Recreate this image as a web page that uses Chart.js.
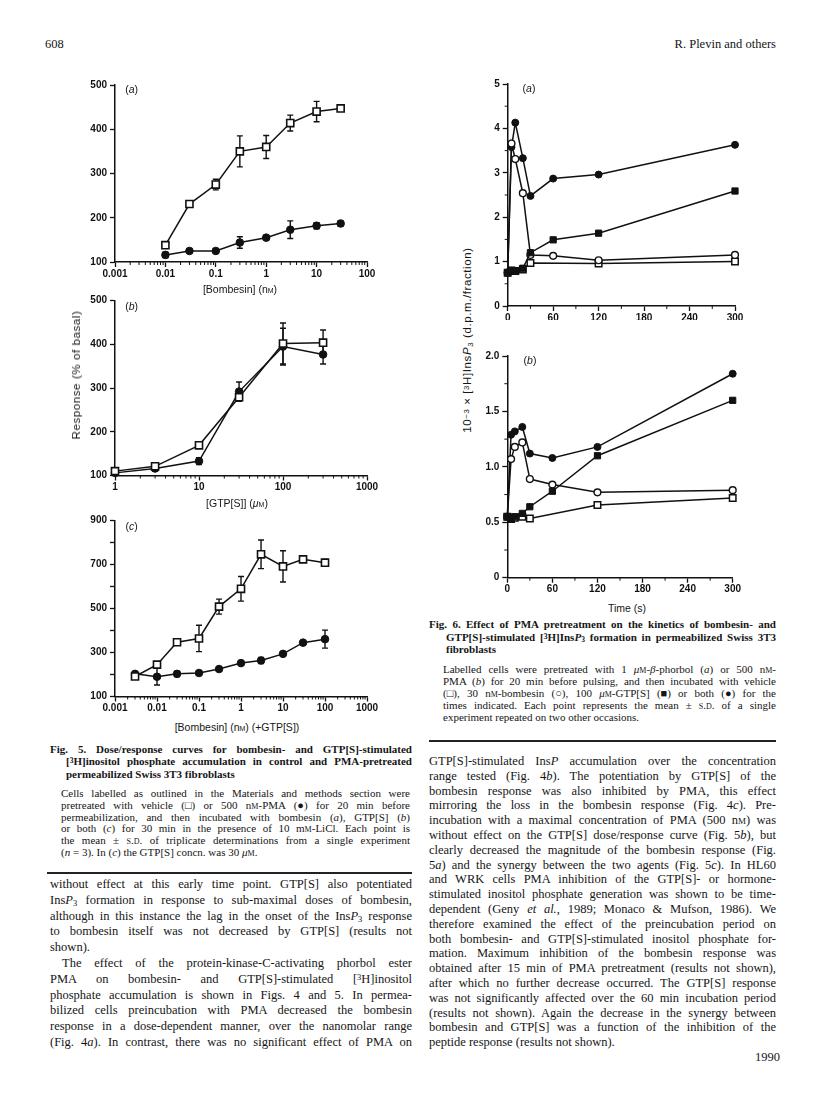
<!DOCTYPE html>
<html>
<head>
<meta charset="utf-8">
<script src="https://cdn.jsdelivr.net/npm/chart.js@4.4.0/dist/chart.umd.min.js"></script>
<style>
html, body { margin: 0; padding: 0; background: #fff; }
body { width: 816px; height: 1093px; position: relative; overflow: hidden;
       font-family: "Liberation Serif", "Times New Roman", serif; color: #151515; }
canvas { position: absolute; }
.ln { position: absolute; white-space: nowrap; }
.body { font-size: 12.5px; line-height: 14px; }
.cap { font-size: 11px; line-height: 12px; }
.capb { font-size: 11px; line-height: 12px; font-weight: bold; }
.sans { position: absolute; white-space: nowrap; font-family: "Liberation Sans", Arial, sans-serif;
        font-size: 10.5px; transform: translate(-50%, -50%); }
.rot { transform: translate(-50%, -50%) rotate(-90deg); font-size: 11.5px; letter-spacing: 0.6px; }
.sc { font-variant: small-caps; }
sup { font-size: 68%; line-height: 0; vertical-align: 0.32em; }
sub { font-size: 68%; line-height: 0; vertical-align: -0.2em; }
.rule { position: absolute; height: 1.5px; background: #222; }
</style>
</head>
<body>
<canvas id="fig5a"></canvas>
<canvas id="fig5b"></canvas>
<canvas id="fig5c"></canvas>
<canvas id="fig6a"></canvas>
<canvas id="fig6b"></canvas>

<script>
// ---- Fig. 5 (a): bombesin dose/response ----
const bombA = [0.01, 0.03, 0.1, 0.3, 1, 3, 10, 30];
const aVehicle = [138, 231, 275, 350, 360, 414, 440, 447];
const aVehicleErr = [0, 0, 12, 35, 26, 18, 23, 6];
const aPMA = [116, 125, 125, 144, 155, 173, 182, 187];
const aPMAErr = [6, 4, 4, 13, 5, 20, 7, 6];

// ---- Fig. 5 (b): GTP[S] dose/response ----
const gtpB = [1, 3, 10, 30, 100, 300];
const bVehicle = [110, 121, 169, 279, 402, 404];
const bVehicleErr = [3, 8, 4, 8, 47, 29];
const bPMA = [106, 116, 133, 292, 395, 377];
const bPMAErr = [3, 6, 8, 22, 42, 22];

// ---- Fig. 5 (c): bombesin + GTP[S] ----
const bombC = [0.003, 0.01, 0.03, 0.1, 0.3, 1, 3, 10, 30, 100];
const cVehicle = [191, 245, 347, 364, 509, 590, 747, 692, 724, 709];
const cVehicleErr = [8, 10, 8, 60, 34, 56, 65, 71, 8, 15];
const cPMA = [203, 190, 203, 207, 225, 252, 264, 294, 345, 361];
const cPMAErr = [8, 38, 12, 8, 8, 6, 14, 8, 6, 41];

// ---- Fig. 6: time courses (s) ----
const time6 = [0, 5, 10, 20, 30, 60, 120, 300];
const time6Vehicle = [0, 5, 10, 20, 30, 120, 300];
const a6Both = [0.75, 3.58, 4.13, 3.33, 2.48, 2.87, 2.96, 3.63];
const a6Bombesin = [0.75, 3.66, 3.31, 2.54, 1.15, 1.13, 1.03, 1.15];
const a6GTP = [0.75, 0.8, 0.79, 0.85, 1.2, 1.49, 1.64, 2.59];
const a6Vehicle = [0.75, 0.8, 0.79, 0.82, 0.97, 0.96, 1.0];
const b6Both = [0.55, 1.29, 1.32, 1.36, 1.12, 1.08, 1.18, 1.84];
const b6Bombesin = [0.55, 1.07, 1.18, 1.22, 0.89, 0.84, 0.77, 0.79];
const b6GTP = [0.55, 0.53, 0.55, 0.58, 0.64, 0.78, 1.10, 1.60];
const b6Vehicle = [0.55, 0.53, 0.54, 0.55, 0.535, 0.656, 0.72];

// ---- tick values / labels ----
const ticks5aX = [0.001, 0.01, 0.1, 1, 10, 100];
const labels5aX = ['0.001', '0.01', '0.1', '1', '10', '100'];
const ticks5bX = [1, 10, 100, 1000];
const labels5bX = ['1', '10', '100', '1000'];
const ticks5cX = [0.001, 0.01, 0.1, 1, 10, 100, 1000];
const labels5cX = ['0.001', '0.01', '0.1', '1', '10', '100', '1000'];
const ticks5abY = [100, 200, 300, 400, 500];
const labels5abY = ['100', '200', '300', '400', '500'];
const ticks5cY = [100, 200, 300, 400, 500, 600, 700, 800, 900];
const labels5cY = ['100', '', '300', '', '500', '', '700', '', '900'];
const ticks6X = [0, 60, 120, 180, 240, 300];
const labels6X = ['0', '60', '120', '180', '240', '300'];
const ticks6aY = [0, 1, 2, 3, 4, 5];
const labels6aY = ['0', '1', '2', '3', '4', '5'];
const ticks6bY = [0, 0.5, 1, 1.5, 2];
const labels6bY = ['0', '0.5', '1.0', '1.5', '2.0'];

const INK = '#111';
const tickFont = { family: '"Liberation Sans", Arial, sans-serif', size: 10, weight: 'bold' };

// minor tick marks between the log decades
function logMinor(e0, e1) {
    const out = [];
    for (let e = e0; e < e1; e++) for (let k = 2; k <= 9; k++) out.push(k * Math.pow(10, e));
    return out;
}
function stepMinor(a, b, step) {
    const out = [];
    for (let v = a; v <= b + 1e-9; v += step) out.push(v);
    return out;
}

const errorBars = {
    id: 'errorBars',
    beforeDatasetsDraw(chart) {
        const ctx = chart.ctx;
        const y = chart.scales.y;
        ctx.save();
        ctx.strokeStyle = INK;
        ctx.lineWidth = 1.4;
        chart.data.datasets.forEach((ds, di) => {
            if (!ds.errors) return;
            chart.getDatasetMeta(di).data.forEach((pt, i) => {
                const e = ds.errors[i];
                if (!e) return;
                const v = ds.data[i].y;
                const top = y.getPixelForValue(v + e);
                const bot = y.getPixelForValue(v - e);
                ctx.beginPath();
                ctx.moveTo(pt.x, top); ctx.lineTo(pt.x, bot);
                ctx.moveTo(pt.x - 3, top); ctx.lineTo(pt.x + 3, top);
                ctx.moveTo(pt.x - 3, bot); ctx.lineTo(pt.x + 3, bot);
                ctx.stroke();
            });
        });
        ctx.restore();
    }
};

const minorTicks = {
    id: 'minorTicks',
    afterDraw(chart, args, opts) {
        const ctx = chart.ctx;
        const a = chart.chartArea;
        ctx.save();
        ctx.strokeStyle = INK;
        ctx.lineWidth = 1;
        (opts.x || []).forEach(v => {
            const px = chart.scales.x.getPixelForValue(v);
            ctx.beginPath(); ctx.moveTo(px, a.bottom); ctx.lineTo(px, a.bottom + 3); ctx.stroke();
        });
        (opts.y || []).forEach(v => {
            const py = chart.scales.y.getPixelForValue(v);
            ctx.beginPath(); ctx.moveTo(a.left, py); ctx.lineTo(a.left - 3, py); ctx.stroke();
        });
        ctx.restore();
    }
};

function axis(def, which, size) {
    return {
        type: def.type, min: def.min, max: def.max,
        position: which === 'x' ? 'bottom' : 'left',
        grid: { drawOnChartArea: false, drawTicks: true, tickLength: 5, tickWidth: 1.3, tickColor: INK },
        border: { display: true, color: INK, width: 1.5 },
        ticks: {
            autoSkip: false, maxRotation: 0, minRotation: 0,
            padding: which === 'x' ? 1 : 3,
            color: INK, font: tickFont,
            callback: (v, i) => def.labels[i]
        },
        afterBuildTicks: s => { s.ticks = def.ticks.map(v => ({ value: v })); },
        afterFit: s => { if (which === 'x') s.height = size; else s.width = size; }
    };
}

function series(xs, ys, errs, style) {
    return Object.assign({
        data: xs.map((x, i) => ({ x: x, y: ys[i] })),
        errors: errs,
        showLine: true, borderColor: INK, borderWidth: 1.5, tension: 0, clip: false
    }, style);
}

const openSquare = { pointStyle: 'rect', pointRadius: 5, pointBackgroundColor: '#fff', pointBorderColor: INK, pointBorderWidth: 1.6 };
const fillCircle = { pointStyle: 'circle', pointRadius: 3.8, pointBackgroundColor: INK, pointBorderColor: INK, pointBorderWidth: 1 };
const openSquare6 = { pointStyle: 'rect', pointRadius: 4.6, pointBackgroundColor: '#fff', pointBorderColor: INK, pointBorderWidth: 1.5 };
const fillSquare6 = { pointStyle: 'rect', pointRadius: 4.4, pointBackgroundColor: INK, pointBorderColor: INK, pointBorderWidth: 1 };
const openCircle6 = { pointStyle: 'circle', pointRadius: 3.4, pointBackgroundColor: '#fff', pointBorderColor: INK, pointBorderWidth: 1.4 };
const fillCircle6 = { pointStyle: 'circle', pointRadius: 3.5, pointBackgroundColor: INK, pointBorderColor: INK, pointBorderWidth: 1 };

// box = canvas rectangle, area = where the plot frame must land on the page
function makeChart(id, box, area, xDef, yDef, datasets, minor) {
    const cv = document.getElementById(id);
    cv.width = box.w; cv.height = box.h;
    cv.style.left = box.x + 'px'; cv.style.top = box.y + 'px';
    cv.style.width = box.w + 'px'; cv.style.height = box.h + 'px';
    return new Chart(cv, {
        type: 'scatter',
        data: { datasets: datasets },
        options: {
            responsive: false, animation: false, devicePixelRatio: 1, events: [],
            layout: { padding: { left: 0, top: area.y0 - box.y, right: box.x + box.w - area.x1, bottom: 0 } },
            plugins: { legend: { display: false }, tooltip: { enabled: false }, minorTicks: minor },
            scales: {
                x: axis(xDef, 'x', box.y + box.h - area.y1),
                y: axis(yDef, 'y', area.x0 - box.x)
            }
        },
        plugins: [errorBars, minorTicks]
    });
}

makeChart('fig5a', { x: 40, y: 70, w: 345, h: 215 }, { x0: 115, y0: 85, x1: 367, y1: 262 },
    { type: 'logarithmic', min: 0.001, max: 100, ticks: ticks5aX, labels: labels5aX },
    { type: 'linear', min: 100, max: 500, ticks: ticks5abY, labels: labels5abY },
    [series(bombA, aVehicle, aVehicleErr, openSquare), series(bombA, aPMA, aPMAErr, fillCircle)],
    { x: logMinor(-3, 2) });

makeChart('fig5b', { x: 40, y: 286, w: 345, h: 212 }, { x0: 115, y0: 300.7, x1: 367, y1: 475.5 },
    { type: 'logarithmic', min: 1, max: 1000, ticks: ticks5bX, labels: labels5bX },
    { type: 'linear', min: 100, max: 500, ticks: ticks5abY, labels: labels5abY },
    [series(gtpB, bVehicle, bVehicleErr, openSquare), series(gtpB, bPMA, bPMAErr, fillCircle)],
    { x: logMinor(0, 3) });

makeChart('fig5c', { x: 40, y: 506, w: 345, h: 213 }, { x0: 115, y0: 520.7, x1: 367, y1: 696.5 },
    { type: 'logarithmic', min: 0.001, max: 1000, ticks: ticks5cX, labels: labels5cX },
    { type: 'linear', min: 100, max: 900, ticks: ticks5cY, labels: labels5cY },
    [series(bombC, cVehicle, cVehicleErr, openSquare), series(bombC, cPMA, cPMAErr, fillCircle)],
    { x: logMinor(-3, 3) });

makeChart('fig6a', { x: 480, y: 70, w: 275, h: 250 }, { x0: 507.7, y0: 84, x1: 735, y1: 306 },
    { type: 'linear', min: 0, max: 300, ticks: ticks6X, labels: labels6X },
    { type: 'linear', min: 0, max: 5, ticks: ticks6aY, labels: labels6aY },
    [series(time6, a6GTP, null, fillSquare6), series(time6, a6Bombesin, null, openCircle6),
     series(time6, a6Both, null, fillCircle6), series(time6Vehicle, a6Vehicle, null, openSquare6)],
    { x: stepMinor(30, 270, 60), y: stepMinor(0.5, 4.5, 1) });

makeChart('fig6b', { x: 480, y: 342, w: 275, h: 250 }, { x0: 507.3, y0: 356, x1: 732.7, y1: 577.7 },
    { type: 'linear', min: 0, max: 300, ticks: ticks6X, labels: labels6X },
    { type: 'linear', min: 0, max: 2, ticks: ticks6bY, labels: labels6bY },
    [series(time6, b6GTP, null, fillSquare6), series(time6, b6Bombesin, null, openCircle6),
     series(time6, b6Both, null, fillCircle6), series(time6Vehicle, b6Vehicle, null, openSquare6)],
    { x: stepMinor(30, 270, 60), y: stepMinor(0.25, 1.75, 0.5) });

// ---- page text ----
const nM = 'n<span class="sc">m</span>';
const uM = '<i>μ</i><span class="sc">m</span>';
const mM = 'm<span class="sc">m</span>';
const SD = '<span class="sc">s.d.</span>';
const InsP3 = 'Ins<i>P</i><sub>3</sub>';

const fig5Bold = [
    'Fig. 5. Dose/response curves for bombesin- and GTP[S]-stimulated',
    '[<sup>3</sup>H]inositol phosphate accumulation in control and PMA-pretreated',
    'permeabilized Swiss 3T3 fibroblasts'
];
const fig5Small = [
    'Cells labelled as outlined in the Materials and methods section were',
    'pretreated with vehicle (□) or 500 ' + nM + '-PMA (●) for 20 min before',
    'permeabilization, and then incubated with bombesin (<i>a</i>), GTP[S] (<i>b</i>)',
    'or both (<i>c</i>) for 30 min in the presence of 10 ' + mM + '-LiCl. Each point is',
    'the mean ± ' + SD + ' of triplicate determinations from a single experiment',
    '(<i>n</i> = 3). In (<i>c</i>) the GTP[S] concn. was 30 ' + uM + '.'
];
const fig6Bold = [
    'Fig. 6. Effect of PMA pretreatment on the kinetics of bombesin- and',
    'GTP[S]-stimulated [<sup>3</sup>H]' + InsP3 + ' formation in permeabilized Swiss 3T3',
    'fibroblasts'
];
const fig6Small = [
    'Labelled cells were pretreated with 1 ' + uM + '-<i>β</i>-phorbol (<i>a</i>) or 500 ' + nM + '-',
    'PMA (<i>b</i>) for 20 min before pulsing, and then incubated with vehicle',
    '(□), 30 ' + nM + '-bombesin (○), 100 ' + uM + '-GTP[S] (■) or both (●) for the',
    'times indicated. Each point represents the mean ± ' + SD + ' of a single',
    'experiment repeated on two other occasions.'
];
const leftBody = [
    'without effect at this early time point. GTP[S] also potentiated',
    InsP3 + ' formation in response to sub-maximal doses of bombesin,',
    'although in this instance the lag in the onset of the ' + InsP3 + ' response',
    'to bombesin itself was not decreased by GTP[S] (results not',
    'shown).',
    'The effect of the protein-kinase-C-activating phorbol ester',
    'PMA on bombesin- and GTP[S]-stimulated [<sup>3</sup>H]inositol',
    'phosphate accumulation is shown in Figs. 4 and 5. In permea-',
    'bilized cells preincubation with PMA decreased the bombesin',
    'response in a dose-dependent manner, over the nanomolar range',
    '(Fig. 4<i>a</i>). In contrast, there was no significant effect of PMA on'
];
const rightBody = [
    'GTP[S]-stimulated Ins<i>P</i> accumulation over the concentration',
    'range tested (Fig. 4<i>b</i>). The potentiation by GTP[S] of the',
    'bombesin response was also inhibited by PMA, this effect',
    'mirroring the loss in the bombesin response (Fig. 4<i>c</i>). Pre-',
    'incubation with a maximal concentration of PMA (500 ' + nM + ') was',
    'without effect on the GTP[S] dose/response curve (Fig. 5<i>b</i>), but',
    'clearly decreased the magnitude of the bombesin response (Fig.',
    '5<i>a</i>) and the synergy between the two agents (Fig. 5<i>c</i>). In HL60',
    'and WRK cells PMA inhibition of the GTP[S]- or hormone-',
    'stimulated inositol phosphate generation was shown to be time-',
    'dependent (Geny <i>et al.</i>, 1989; Monaco &amp; Mufson, 1986). We',
    'therefore examined the effect of the preincubation period on',
    'both bombesin- and GTP[S]-stimulated inositol phosphate for-',
    'mation. Maximum inhibition of the bombesin response was',
    'obtained after 15 min of PMA pretreatment (results not shown),',
    'after which no further decrease occurred. The GTP[S] response',
    'was not significantly affected over the 60 min incubation period',
    '(results not shown). Again the decrease in the synergy between',
    'bombesin and GTP[S] was a function of the inhibition of the',
    'peptide response (results not shown).'
];

const L0 = 50, L1 = 412, R0 = 429, R1 = 776;

function addLine(html, cls, x, yc, lh, width) {
    const d = document.createElement('div');
    d.className = 'ln ' + cls;
    d.innerHTML = html;
    d.style.left = x + 'px';
    d.style.top = (yc - lh * 0.64) + 'px';
    document.body.appendChild(d);
    if (width) {
        const nat = d.getBoundingClientRect().width;
        const spaces = (d.textContent.match(/ /g) || []).length;
        const ws = spaces ? (width - nat) / spaces : 0;
        if (ws < -1.6) {
            d.style.letterSpacing = ((width - nat) / d.textContent.length) + 'px';
        } else if (spaces) {
            d.style.wordSpacing = ws + 'px';
        }
    }
    return d;
}

function addBlock(lines, cls, x, right, y0, dy, lh, opts) {
    opts = opts || {};
    lines.forEach((t, i) => {
        const indent = (i > 0 && opts.hang) ? opts.hang : 0;
        const extra = (opts.indentAt === i) ? 12 : 0;
        const lx = x + indent + extra;
        const justify = opts.noJustify && opts.noJustify.indexOf(i) >= 0 ? null : right - lx;
        addLine(t, cls, lx, y0 + dy * i, lh, justify);
    });
}

function label(html, cx, cy, extraCls) {
    const d = document.createElement('div');
    d.className = 'sans' + (extraCls ? ' ' + extraCls : '');
    d.innerHTML = html;
    d.style.left = cx + 'px';
    d.style.top = cy + 'px';
    document.body.appendChild(d);
}

function rule(x0, x1, y) {
    const d = document.createElement('div');
    d.className = 'rule';
    d.style.left = x0 + 'px'; d.style.width = (x1 - x0) + 'px'; d.style.top = (y - 0.75) + 'px';
    document.body.appendChild(d);
}

// running head and folio
addLine('608', 'body', L0 - 5, 46, 14, null);
const head = addLine('R. Plevin and others', 'body', 0, 46, 14, null);
head.style.left = (R1 - head.getBoundingClientRect().width) + 'px';
const folio = addLine('1990', 'body', 0, 1059, 14, null);
folio.style.left = (R1 + 4 - folio.getBoundingClientRect().width) + 'px';

// chart labels
label('(<i>a</i>)', 131.7, 89.3);
label('(<i>b</i>)', 131.7, 306);
label('(<i>c</i>)', 131.7, 525.7);
label('(<i>a</i>)', 529, 88.3);
label('(<i>b</i>)', 530, 360);
label('[Bombesin] (' + nM + ')', 240, 289.3);
label('[GTP[S]] (' + uM + ')', 237, 503.3);
label('[Bombesin] (' + nM + ') (+GTP[S])', 237, 727.3);
label('Response (% of basal)', 76, 375, 'rot');
label('10<sup>−3</sup> × [<sup>3</sup>H]' + InsP3 + ' (d.p.m./fraction)', 467, 340, 'rot');
label('Time (s)', 627, 608);

// Fig. 5 legend
addBlock(fig5Bold, 'capb', L0, L1, 750.5, 12.5, 12, { hang: 16, noJustify: [2] });
addBlock(fig5Small, 'cap', L0 + 11, L1 - 2, 795, 11.7, 12, { noJustify: [5] });
rule(L0 - 3, L1, 873);

// Fig. 6 legend
addBlock(fig6Bold, 'capb', R0, R1, 626, 12.5, 12, { hang: 17, noJustify: [2] });
addBlock(fig6Small, 'cap', R0 + 14, R1, 671, 11.8, 12, { noJustify: [4] });
rule(R0, R1, 741);

// body columns
addBlock(leftBody, 'body', L0, L1, 886, 15.8, 14, { noJustify: [4], indentAt: 5 });
addBlock(rightBody, 'body', R0, R1, 763, 14.8, 14, { noJustify: [19] });
</script>
</body>
</html>
